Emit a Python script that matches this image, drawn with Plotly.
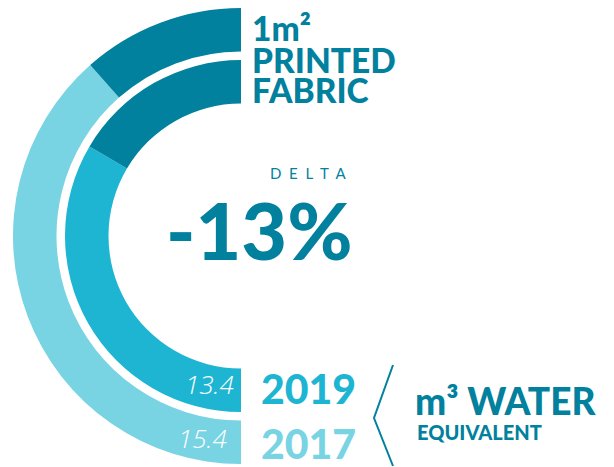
import plotly.graph_objects as go

# Water use per 1 m² of printed fabric (m³ water equivalent)
years = ["2019", "2017"]
water = [13.4, 15.4]
scale_max = 20.0  # value that fills the half ring

ring_colors = ["#1EB5D3", "#78D3E3"]
rest_color = "#01819D"
dark = "#01819D"
heavy = "Lato"

W, H = 614, 467
cx, cy = 241, 231  # ring centre in px (from left, from bottom)

# inner ring = 2019, outer ring = 2017: (outer radius px, inner radius px)
radii = {"2019": (176, 132.5), "2017": (228, 184.5)}

fig = go.Figure()
for year, val, col in zip(years, water, ring_colors):
    r_out, r_in = radii[year]
    fig.add_trace(go.Pie(
        values=[val, scale_max - val, scale_max],
        marker=dict(colors=[col, rest_color, "rgba(0,0,0,0)"], line=dict(width=0)),
        sort=False,
        direction="clockwise",
        rotation=180,
        hole=r_in / r_out,
        textinfo="none",
        hoverinfo="skip",
        showlegend=False,
        domain=dict(x=[(cx - r_out) / W, (cx + r_out) / W],
                    y=[(cy - r_out) / H, (cy + r_out) / H]),
    ))

def px_y(y_top):
    return 1 - y_top / H

ann = []
# value labels inside ring ends
val_pos = {"2019": (236, 384), "2017": (229, 438)}
year_pos = {"2019": 388, "2017": 443}
for year, val, col in zip(years, water, ring_colors):
    vx, vy = val_pos[year]
    ann.append(dict(x=vx / W, y=px_y(vy), text=f"{val:.1f}", xanchor="right", yanchor="middle",
                    font=dict(family="Open Sans, Noto Sans", size=26, color="white",
                              style="italic", weight=300)))
    ann.append(dict(x=259 / W, y=px_y(year_pos[year]), text=year, xanchor="left", yanchor="middle",
                    font=dict(family=heavy, size=41, color=col, weight=900)))

# delta between the two years
delta = (water[0] - water[1]) / water[1] * 100
ann.append(dict(x=308 / W, y=px_y(173), text="D  E  L  T  A", xanchor="center", yanchor="middle",
                font=dict(family="Lato", size=15, color=dark)))
ann.append(dict(x=259 / W, y=px_y(230), text=f"{delta:.0f}%", xanchor="center", yanchor="middle",
                font=dict(family=heavy, size=79, color=dark, weight=900)))

# title block
for txt, yy in [("1m²", 28), ("PRINTED", 60), ("FABRIC", 90)]:
    ann.append(dict(x=250 / W, y=px_y(yy), text=txt, xanchor="left", yanchor="middle",
                    font=dict(family=heavy, size=33.5, color=dark, weight=900)))

# unit block
ann.append(dict(x=413 / W, y=px_y(400), text="m³ WATER", xanchor="left", yanchor="middle",
                font=dict(family=heavy, size=37, color=dark, weight=900)))
ann.append(dict(x=415 / W, y=px_y(432), text="EQUIVALENT", xanchor="left", yanchor="middle",
                font=dict(family=heavy, size=20, color=dark, weight=900)))

for a in ann:
    a.update(xref="paper", yref="paper", showarrow=False)

# chevron bracket
fig.add_shape(type="path", xref="paper", yref="paper",
              path=f"M {393/W},{px_y(365)} L {374/W},{px_y(418)} L {393/W},{px_y(466)}",
              line=dict(color=dark, width=2))

fig.update_layout(
    width=W, height=H,
    margin=dict(l=0, r=0, t=0, b=0),
    paper_bgcolor="white", plot_bgcolor="white",
    annotations=ann,
)

fig.write_html("out.html")
